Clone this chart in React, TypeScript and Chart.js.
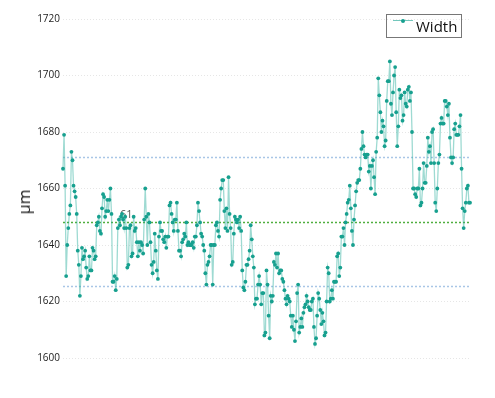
import React, { useEffect, useRef } from "react";
import { Chart, registerables } from "chart.js";

Chart.register(...registerables);

const widthPart1 = [
  1667, 1679, 1661, 1629, 1640, 1646, 1651, 1654, 1673, 1670, 1661, 1659, 1657, 1651, 1638, 1633, 1622, 1629, 1639, 1635,
  1636, 1638, 1632, 1628, 1629, 1636, 1631, 1631, 1639, 1638, 1635, 1636, 1647, 1648, 1650, 1645, 1644, 1653, 1658, 1657,
  1650, 1652, 1656, 1652, 1656, 1660, 1651, 1627, 1627, 1629, 1624, 1628, 1646, 1649, 1647, 1650, 1651, 1649, 1646, 1650,
  1646, 1632, 1633, 1646, 1647, 1636, 1637, 1650, 1645, 1646, 1641, 1636, 1641, 1638, 1641, 1640, 1637, 1649, 1660, 1650,
  1640, 1651, 1648, 1641, 1633, 1630, 1634, 1644, 1638, 1631, 1628, 1643, 1648, 1645, 1645, 1642, 1641, 1643, 1639, 1643,
];
const widthPart2 = [
  1643, 1654, 1655, 1651, 1648, 1645, 1649, 1649, 1655, 1645, 1638, 1638, 1636, 1641, 1642, 1644, 1643, 1648, 1640, 1641,
  1640, 1640, 1640, 1641, 1639, 1643, 1643, 1647, 1655, 1652, 1648, 1644, 1643, 1640, 1638, 1630, 1626, 1633, 1634, 1636,
  1640, 1640, 1626, 1640, 1640, 1647, 1648, 1645, 1643, 1656, 1660, 1663, 1663, 1652, 1646, 1653, 1645, 1664, 1651, 1646,
  1633, 1634, 1644, 1650, 1649, 1648, 1649, 1646, 1650, 1645, 1631, 1625, 1624, 1627, 1633, 1633, 1635, 1638, 1647, 1642,
  1636, 1632, 1619, 1621, 1621, 1626, 1629, 1626, 1619, 1623, 1623, 1608, 1609, 1631, 1626, 1615, 1607, 1622, 1620, 1622,
];
const widthPart3 = [
  1634, 1633, 1637, 1632, 1637, 1630, 1631, 1631, 1628, 1627, 1624, 1621, 1619, 1622, 1621, 1620, 1615, 1611, 1615, 1610,
  1606, 1613, 1623, 1626, 1609, 1611, 1614, 1611, 1616, 1618, 1619, 1622, 1620, 1618, 1617, 1617, 1620, 1621, 1611, 1605,
  1607, 1615, 1623, 1621, 1617, 1612, 1616, 1613, 1608, 1609, 1620, 1632, 1630, 1620, 1621, 1624, 1621, 1627, 1627, 1627,
  1636, 1637, 1629, 1632, 1643, 1643, 1646, 1640, 1648, 1651, 1655, 1656, 1661, 1653, 1645, 1640, 1649, 1654, 1659, 1662,
  1663, 1663, 1667, 1674, 1680, 1675, 1672, 1671, 1672, 1672, 1666, 1668, 1660, 1668, 1670, 1664, 1658, 1673, 1678, 1699,
];
const widthPart4 = [
  1693, 1687, 1680, 1684, 1682, 1675, 1677, 1691, 1698, 1698, 1705, 1690, 1686, 1694, 1700, 1703, 1687, 1675, 1682, 1695,
  1692, 1693, 1684, 1686, 1694, 1690, 1689, 1695, 1696, 1691, 1694, 1680, 1660, 1660, 1658, 1657, 1660, 1660, 1667, 1654,
  1655, 1660, 1669, 1662, 1662, 1668, 1678, 1673, 1675, 1669, 1680, 1681, 1669, 1655, 1652, 1660, 1669, 1672, 1683, 1685,
  1683, 1683, 1691, 1691, 1689, 1686, 1690, 1678, 1671, 1669, 1671, 1681, 1683, 1679, 1679, 1679, 1682, 1686, 1667, 1653,
  1646, 1652, 1655, 1660, 1661, 1655, 1655,
];

const widthValues = [...widthPart1, ...widthPart2, ...widthPart3, ...widthPart4];
const sampleLabels = widthValues.map((_, i) => String(i + 1));

// Control lines
const upperLimit = 1671;
const lowerLimit = 1625.5;
const meanLine = 1648.2;

// Axis
const yMin = 1600;
const yMax = 1720;
const yStep = 20;

// Stray label in the plot
const strayLabelText = "61";
const strayLabelIndex = 60;
const strayLabelValue = 1650.5;

const refLinesPlugin = {
  id: "refLines",
  beforeDatasetsDraw(chart: any) {
    const { ctx, chartArea, scales } = chart;
    const y = scales.y;
    const x = scales.x;
    const lines = [
      { v: upperLimit, c: "#a9c6e6" },
      { v: lowerLimit, c: "#a9c6e6" },
      { v: meanLine, c: "#4fae3f" },
    ];
    ctx.save();
    ctx.lineWidth = 1.5;
    ctx.setLineDash([2, 2]);
    for (const l of lines) {
      const py = Math.round(y.getPixelForValue(l.v)) + 0.5;
      ctx.strokeStyle = l.c;
      ctx.beginPath();
      ctx.moveTo(chartArea.left, py);
      ctx.lineTo(chartArea.right, py);
      ctx.stroke();
    }
    ctx.setLineDash([]);
    ctx.fillStyle = "#555";
    ctx.font = "11px 'Open Sans'";
    ctx.textAlign = "center";
    ctx.textBaseline = "middle";
    ctx.fillText(strayLabelText, x.getPixelForValue(strayLabelIndex), y.getPixelForValue(strayLabelValue));
    ctx.restore();
  },
};

export default function App() {
  const canvasRef = useRef<HTMLCanvasElement | null>(null);

  useEffect(() => {
    if (!canvasRef.current) return;
    const chart = new Chart(canvasRef.current, {
      type: "line",
      data: {
        labels: sampleLabels,
        datasets: [
          {
            label: "Width",
            data: widthValues,
            borderColor: "rgba(40,172,156,0.45)",
            borderWidth: 1.3,
            pointRadius: 1.9,
            pointBackgroundColor: "#17a08f",
            pointBorderWidth: 0,
            tension: 0,
          },
        ],
      },
      options: {
        animation: false,
        responsive: true,
        maintainAspectRatio: false,
        layout: { padding: { left: 0, right: 25, top: 19, bottom: 40 } },
        plugins: {
          legend: { display: false },
          tooltip: { enabled: false },
        },
        scales: {
          x: {
            display: false,
            offset: false,
          },
          y: {
            min: yMin,
            max: yMax,
            afterFit: (scale: any) => {
              scale.width = 63;
            },
            ticks: {
              stepSize: yStep,
              padding: 3,
              color: "#222",
              font: { family: "'Open Sans'", size: 10 },
              callback: (v: any) => String(v),
            },
            grid: {
              color: "#e6e6e6",
              lineWidth: 1,
              drawTicks: false,
            },
            border: { display: false, dash: [1, 2] },
          },
        },
      },
      plugins: [refLinesPlugin],
    });
    return () => chart.destroy();
  }, []);

  return (
    <div style={{ position: "fixed", left: 0, top: 0, width: 495, height: 398, background: "#fff" }}>
      <canvas ref={canvasRef} />
      <div
        style={{
          position: "absolute",
          left: 24,
          top: 202,
          transform: "translate(-50%, -50%) rotate(-90deg)",
          fontFamily: "'Open Sans'",
          fontSize: 16,
          color: "#111",
          whiteSpace: "nowrap",
          lineHeight: 1,
        }}
      >
        μm
      </div>
      <div
        style={{
          position: "absolute",
          left: 386,
          top: 14,
          width: 76,
          height: 24,
          border: "1px solid #777",
          boxSizing: "border-box",
          fontFamily: "'Open Sans'",
          fontSize: 15,
          color: "#111",
        }}
      >
        <div style={{ position: "absolute", left: 6, top: 5, width: 20, height: 1, background: "rgba(22,161,144,0.6)" }} />
        <div
          style={{
            position: "absolute",
            left: 14,
            top: 3.5,
            width: 4,
            height: 4,
            borderRadius: "50%",
            background: "#17a08f",
          }}
        />
        <div style={{ position: "absolute", left: 29, top: 1, lineHeight: "20px" }}>Width</div>
      </div>
    </div>
  );
}
